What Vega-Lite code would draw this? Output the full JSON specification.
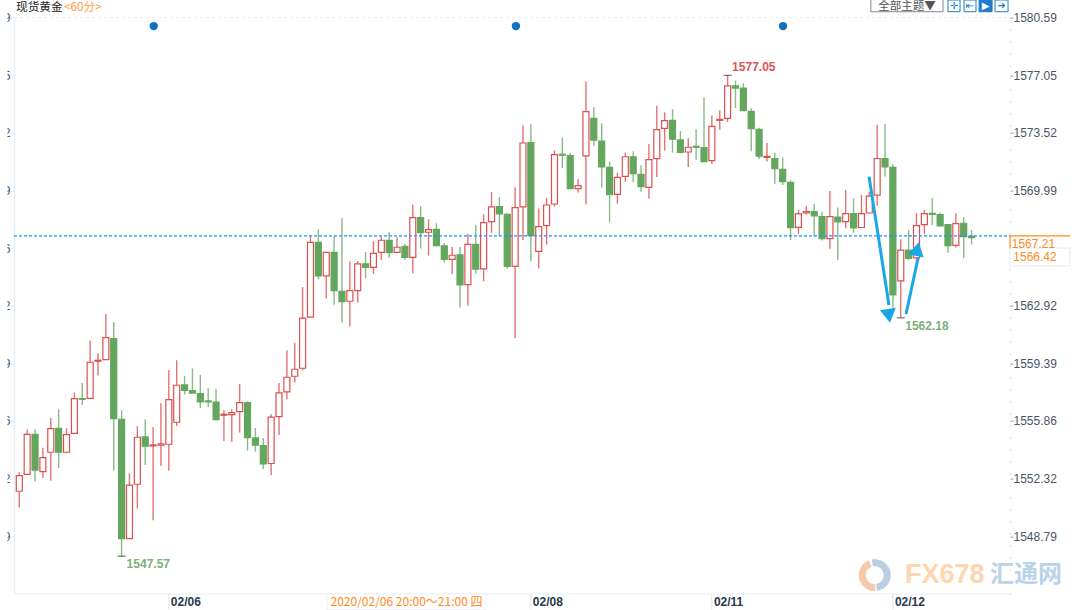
{"$schema":"https://vega.github.io/schema/vega-lite/v6.json","width":996,"height":576.4,"padding":{"left":14,"top":17.6,"right":70,"bottom":16},"autosize":"none","background":"#ffffff","config":{"view":{"stroke":null},"text":{"font":"Liberation Sans"}},
"datasets":{"candles":[
{"i":0,"o":1551.55,"h":1552.71,"l":1550.56,"c":1552.51},{"i":1,"o":1552.59,"h":1555.35,"l":1552.59,"c":1555.04},{"i":2,"o":1555.04,"h":1555.35,"l":1552.14,"c":1552.85},{"i":3,"o":1552.75,"h":1554.22,"l":1552.38,"c":1553.61},{"i":4,"o":1553.94,"h":1556.04,"l":1552.2,"c":1555.39},{"i":5,"o":1555.41,"h":1556.57,"l":1552.98,"c":1553.94},{"i":6,"o":1553.94,"h":1555.41,"l":1553.88,"c":1555.02},{"i":7,"o":1555.1,"h":1557.6,"l":1555.1,"c":1557.23},{"i":8,"o":1557.23,"h":1558.19,"l":1556.84,"c":1557.19},{"i":9,"o":1557.25,"h":1560.79,"l":1557.21,"c":1559.46},
{"i":10,"o":1559.52,"h":1560.01,"l":1558.64,"c":1559.58},{"i":11,"o":1559.62,"h":1562.42,"l":1559.62,"c":1560.97},{"i":12,"o":1560.91,"h":1561.93,"l":1552.8,"c":1556},{"i":13,"o":1555.96,"h":1556.52,"l":1547.57,"c":1548.65},{"i":14,"o":1548.65,"h":1552.65,"l":1548.65,"c":1551.92},{"i":15,"o":1551.98,"h":1555.53,"l":1550.49,"c":1554.86},{"i":16,"o":1554.88,"h":1555.96,"l":1553.16,"c":1554.31},{"i":17,"o":1554.33,"h":1555.49,"l":1549.77,"c":1554.39},{"i":18,"o":1554.37,"h":1556.94,"l":1553.1,"c":1554.45},{"i":19,"o":1554.43,"h":1558.99,"l":1552.8,"c":1557.17},
{"i":20,"o":1555.78,"h":1559.58,"l":1555.55,"c":1558.05},{"i":21,"o":1558.07,"h":1558.62,"l":1557.47,"c":1557.74},{"i":22,"o":1557.72,"h":1559.09,"l":1557.56,"c":1557.56},{"i":23,"o":1557.54,"h":1558.68,"l":1556.66,"c":1557.03},{"i":24,"o":1557.09,"h":1557.88,"l":1556.72,"c":1557.03},{"i":25,"o":1557.01,"h":1557.84,"l":1555.92,"c":1555.94},{"i":26,"o":1556.21,"h":1556.52,"l":1554.63,"c":1556.27},{"i":27,"o":1556.25,"h":1556.57,"l":1554.57,"c":1556.37},{"i":28,"o":1556.43,"h":1558.13,"l":1555.15,"c":1556.98},{"i":29,"o":1556.98,"h":1557.07,"l":1554.04,"c":1554.84},
{"i":30,"o":1554.82,"h":1555.43,"l":1553.98,"c":1554.37},{"i":31,"o":1554.35,"h":1554.82,"l":1552.92,"c":1553.23},{"i":32,"o":1553.25,"h":1556.27,"l":1552.55,"c":1556.09},{"i":33,"o":1556.13,"h":1558.19,"l":1555,"c":1557.58},{"i":34,"o":1557.64,"h":1560.19,"l":1557.19,"c":1558.54},{"i":35,"o":1558.6,"h":1560.66,"l":1558.21,"c":1559.03},{"i":36,"o":1559.09,"h":1564.07,"l":1558.95,"c":1562.16},{"i":37,"o":1562.22,"h":1567.2,"l":1562.22,"c":1566.81},{"i":38,"o":1566.81,"h":1567.61,"l":1564.55,"c":1564.75},{"i":39,"o":1564.75,"h":1566.24,"l":1563.36,"c":1566.2},
{"i":40,"o":1566.2,"h":1567.22,"l":1562.99,"c":1563.85},{"i":41,"o":1563.81,"h":1568.29,"l":1561.89,"c":1563.18},{"i":42,"o":1563.2,"h":1565.63,"l":1561.66,"c":1563.85},{"i":43,"o":1563.85,"h":1565.67,"l":1563.12,"c":1565.49},{"i":44,"o":1565.49,"h":1566.22,"l":1564.61,"c":1565.28},{"i":45,"o":1565.28,"h":1566.88,"l":1564.87,"c":1566.14},{"i":46,"o":1566.2,"h":1567.16,"l":1565.73,"c":1566.94},{"i":47,"o":1566.94,"h":1567.43,"l":1565.87,"c":1566.18},{"i":48,"o":1566.2,"h":1567.12,"l":1566.2,"c":1566.51},{"i":49,"o":1566.57,"h":1566.71,"l":1565.73,"c":1565.89},
{"i":50,"o":1565.89,"h":1569.12,"l":1564.91,"c":1568.33},{"i":51,"o":1568.33,"h":1569.02,"l":1566.43,"c":1567.41},{"i":52,"o":1567.43,"h":1568.22,"l":1566,"c":1567.59},{"i":53,"o":1567.61,"h":1567.98,"l":1566.55,"c":1566.61},{"i":54,"o":1566.59,"h":1566.75,"l":1565.57,"c":1565.77},{"i":55,"o":1565.77,"h":1566.53,"l":1564.87,"c":1566.02},{"i":56,"o":1566.04,"h":1566.53,"l":1562.81,"c":1564.2},{"i":57,"o":1564.22,"h":1567.33,"l":1562.93,"c":1566.69},{"i":58,"o":1566.69,"h":1567.88,"l":1564.89,"c":1565.16},{"i":59,"o":1565.18,"h":1568.53,"l":1564.42,"c":1568.02},
{"i":60,"o":1568.08,"h":1569.9,"l":1567.39,"c":1568.98},{"i":61,"o":1569,"h":1569.59,"l":1567.2,"c":1568.55},{"i":62,"o":1568.53,"h":1568.59,"l":1565.2,"c":1565.34},{"i":63,"o":1565.34,"h":1570.19,"l":1560.93,"c":1568.94},{"i":64,"o":1568.98,"h":1573.99,"l":1566.96,"c":1572.9},{"i":65,"o":1572.92,"h":1574.05,"l":1565.63,"c":1567.22},{"i":66,"o":1566.26,"h":1568.88,"l":1565.2,"c":1567.77},{"i":67,"o":1567.84,"h":1569.53,"l":1566.67,"c":1569.1},{"i":68,"o":1569.16,"h":1572.45,"l":1569,"c":1572.19},{"i":69,"o":1572.21,"h":1573.23,"l":1571.37,"c":1572.15},
{"i":70,"o":1572.13,"h":1572.27,"l":1570.1,"c":1570.1},{"i":71,"o":1570.1,"h":1570.7,"l":1569.86,"c":1570.29},{"i":72,"o":1572.11,"h":1576.67,"l":1569.14,"c":1574.83},{"i":73,"o":1574.41,"h":1575.09,"l":1572.74,"c":1573.07},{"i":74,"o":1573.02,"h":1574.11,"l":1570.16,"c":1571.43},{"i":75,"o":1571.41,"h":1571.76,"l":1568.04,"c":1569.73},{"i":76,"o":1569.75,"h":1571.08,"l":1569.18,"c":1570.8},{"i":77,"o":1570.86,"h":1572.31,"l":1570.53,"c":1572.06},{"i":78,"o":1572.06,"h":1572.39,"l":1570.51,"c":1571.02},{"i":79,"o":1570.98,"h":1571.53,"l":1569.92,"c":1570.22},
{"i":80,"o":1570.18,"h":1572.84,"l":1569.49,"c":1571.88},{"i":81,"o":1571.94,"h":1575.19,"l":1570.82,"c":1573.72},{"i":82,"o":1573.8,"h":1574.78,"l":1572.43,"c":1574.27},{"i":83,"o":1574.29,"h":1574.97,"l":1572.31,"c":1573.13},{"i":84,"o":1573.09,"h":1573.64,"l":1572.27,"c":1572.33},{"i":85,"o":1572.35,"h":1573.19,"l":1571.43,"c":1572.64},{"i":86,"o":1572.7,"h":1573.74,"l":1571.86,"c":1572.64},{"i":87,"o":1572.62,"h":1575.7,"l":1571.72,"c":1571.76},{"i":88,"o":1571.82,"h":1574.58,"l":1571.61,"c":1573.92},{"i":89,"o":1574.29,"h":1574.9,"l":1573.72,"c":1574.35},
{"i":90,"o":1574.41,"h":1577.05,"l":1574.19,"c":1576.4},{"i":91,"o":1576.4,"h":1576.72,"l":1575.05,"c":1576.27},{"i":92,"o":1576.27,"h":1576.56,"l":1574.86,"c":1574.88},{"i":93,"o":1574.84,"h":1575.03,"l":1572.39,"c":1573.78},{"i":94,"o":1573.74,"h":1573.84,"l":1571.92,"c":1572.1},{"i":95,"o":1572.02,"h":1572.9,"l":1571.76,"c":1572.08},{"i":96,"o":1571.94,"h":1572.31,"l":1570.41,"c":1571.33},{"i":97,"o":1571.29,"h":1572.02,"l":1570.33,"c":1570.53},{"i":98,"o":1570.49,"h":1570.61,"l":1566.95,"c":1567.71},{"i":99,"o":1567.73,"h":1568.79,"l":1567.32,"c":1568.55},
{"i":100,"o":1568.61,"h":1569.04,"l":1568.51,"c":1568.69},{"i":101,"o":1568.69,"h":1569.16,"l":1567.16,"c":1568.43},{"i":102,"o":1568.39,"h":1568.69,"l":1566.93,"c":1567.04},{"i":103,"o":1567.04,"h":1569.96,"l":1566.42,"c":1568.39},{"i":104,"o":1568.36,"h":1568.94,"l":1565.73,"c":1568.06},{"i":105,"o":1568.08,"h":1570.02,"l":1567.67,"c":1568.57},{"i":106,"o":1568.57,"h":1569.51,"l":1567.41,"c":1567.69},{"i":107,"o":1567.72,"h":1569.72,"l":1567.72,"c":1568.57},{"i":108,"o":1568.61,"h":1569.92,"l":1568.59,"c":1569.64},{"i":109,"o":1569.7,"h":1574.01,"l":1569.04,"c":1571.95},
{"i":110,"o":1571.95,"h":1574.07,"l":1570.84,"c":1571.44},{"i":111,"o":1571.41,"h":1571.6,"l":1562.71,"c":1563.59},{"i":112,"o":1564.45,"h":1567,"l":1562.18,"c":1566.33},{"i":113,"o":1566.33,"h":1567.55,"l":1565.73,"c":1565.83},{"i":114,"o":1565.86,"h":1568.59,"l":1565.39,"c":1567.84},{"i":115,"o":1567.9,"h":1568.8,"l":1567.33,"c":1568.57},{"i":116,"o":1568.59,"h":1569.53,"l":1567.88,"c":1568.53},{"i":117,"o":1568.51,"h":1568.64,"l":1567.78,"c":1567.82},{"i":118,"o":1567.9,"h":1567.94,"l":1566.18,"c":1566.61},{"i":119,"o":1566.63,"h":1568.59,"l":1566.49,"c":1567.96},
{"i":120,"o":1567.98,"h":1568.35,"l":1565.83,"c":1567.16},{"i":121,"o":1567.18,"h":1567.57,"l":1566.67,"c":1567.1}],
"arrowA":[{"i":107.97,"p":1570.84},{"i":110.5,"p":1562.97}],"arrowB":[{"i":112.67,"p":1562.42},{"i":114.2,"p":1565.85}],
"extremes":[{"i":13,"p":1547.57,"t":"1547.57"},{"i":90,"p":1577.05,"t":"1577.05"},{"i":112,"p":1562.18,"t":"1562.18"}],
"dates":[{"i":19,"p":1545.25,"q":1544.29,"m":1544.76,"t":"02/06"},{"i":65,"p":1545.25,"q":1544.29,"m":1544.76,"t":"02/08"},{"i":88,"p":1545.25,"q":1544.29,"m":1544.76,"t":"02/11"},{"i":111,"p":1545.25,"q":1544.29,"m":1544.76,"t":"02/12"}],
"icons":[{"a":118,"b":119.53,"m":118.77,"g":"✛"},{"a":120.04,"b":121.56,"m":120.8,"g":"⇤"},{"a":121.95,"b":123.6,"m":122.78,"g":"▶"},{"a":123.98,"b":125.63,"m":124.8,"g":"➜"}]},
"encoding":{"x":{"field":"i","type":"quantitative","title":null,"scale":{"domain":[-0.673,125.88],"nice":false,"zero":false,"padding":0},"axis":null}},
"resolve":{"axis":{"y":"independent"}},
"layer":[
{"data":{"values":[{"a":-0.673,"b":125.88,"p":1580.59}]},"mark":{"type":"rule","color":"#eeeeee","strokeDash":[3,3]},"encoding":{"x":{"field":"a","type":"quantitative","title":null,"axis":null},"x2":{"field":"b"},"y":{"field":"p","type":"quantitative","title":null,"scale":{"domain":[1545.25,1580.59],"nice":false,"zero":false},"axis":null}}},
{"data":{"values":[{"a":-0.673,"b":125.88,"p":1545.25}]},"mark":{"type":"rule","color":"#e8edf3"},"encoding":{"x":{"field":"a","type":"quantitative","title":null,"axis":null},"x2":{"field":"b"},"y":{"field":"p","type":"quantitative","title":null,"axis":null}}},
{"data":{"name":"dates"},"mark":{"type":"rule","color":"#dde3ea"},"encoding":{"y":{"field":"p","type":"quantitative","title":null,"axis":null},"y2":{"field":"q"}}},
{"data":{"name":"dates"},"mark":{"type":"text","align":"left","dx":2,"fontSize":12,"fontWeight":"bold","color":"#2b3850"},"encoding":{"y":{"field":"m","type":"quantitative","title":null,"axis":null},"text":{"field":"t"}}},
{"data":{"name":"candles"},"mark":{"type":"rule","strokeWidth":1.4,"opacity":0.8},"encoding":{
"y":{"field":"h","type":"quantitative","title":null,"scale":{"domain":[1545.25,1580.59],"nice":false,"zero":false},"axis":{"orient":"left","values":[1580.59,1577.05,1573.52,1569.99,1566.46,1562.92,1559.39,1555.86,1552.32,1548.79],"labelExpr":"slice(format(datum.value,'.2f'),-1)","grid":false,"tickSize":4,"tickColor":"#d5e6f5","labelPadding":0,"labelFont":"Liberation Sans","labelFontSize":12,"labelColor":"#3d5478","domainColor":"#e8eef5","domainWidth":1.5,"labelOverlap":false,"labelFlush":false}},
"y2":{"field":"l"},"color":{"condition":{"test":"datum.c>=datum.o","value":"#dd4f4f"},"value":"#6aaa66"}}},
{"data":{"name":"candles"},"mark":{"type":"bar","size":6,"strokeWidth":1.2},"encoding":{
"y":{"field":"o","type":"quantitative","title":null,"scale":{"domain":[1545.25,1580.59],"nice":false,"zero":false},"axis":{"orient":"right","values":[1580.59,1577.05,1573.52,1569.99,1562.92,1559.39,1555.86,1552.32,1548.79],"format":".2f","grid":false,"tickSize":3,"tickColor":"#999999","labelPadding":0,"labelFont":"Liberation Sans","labelFontSize":12,"labelColor":"#4a5568","domainColor":"#bbbbbb","domainDash":[1,11],"labelOverlap":false,"labelFlush":false}},
"y2":{"field":"c"},"fill":{"condition":{"test":"datum.c>=datum.o","value":"#ffffff"},"value":"#63a75e"},"stroke":{"condition":{"test":"datum.c>=datum.o","value":"#dd4f4f"},"value":"#63a75e"}}},
{"data":{"values":[{"a":-2.46,"b":-1.5,"p":1581.67,"q":1544.29}]},"mark":{"type":"rect","fill":"#ffffff"},"encoding":{"x":{"field":"a","type":"quantitative","title":null,"axis":null},"x2":{"field":"b"},"y":{"field":"p","type":"quantitative","title":null,"axis":null},"y2":{"field":"q"}}},
{"data":{"values":[{"a":-0.673,"b":125.88,"p":1567.21}]},"mark":{"type":"rule","color":"#1e90ff","strokeDash":[3,2],"strokeWidth":1.1},"encoding":{"x":{"field":"a","type":"quantitative","title":null,"axis":null},"x2":{"field":"b"},"y":{"field":"p","type":"quantitative","title":null,"axis":null}}},
{"data":{"values":[{"a":125.88,"b":133.5,"p":1567.21}]},"mark":{"type":"rule","color":"#ff8a1c","strokeWidth":1.2},"encoding":{"x":{"field":"a","type":"quantitative","title":null,"axis":null},"x2":{"field":"b"},"y":{"field":"p","type":"quantitative","title":null,"axis":null}}},
{"data":{"values":[{"i":125.88,"p":1567.21,"q":1566.35}]},"mark":{"type":"rule","color":"#ff8a1c","strokeWidth":1.2},"encoding":{"y":{"field":"p","type":"quantitative","title":null,"axis":null},"y2":{"field":"q"}}},
{"data":{"values":[{"a":125.88,"b":133.5,"p":1566.46,"q":1565.36}]},"mark":{"type":"rect","fill":"#ffffff","stroke":"#e6e9ee"},"encoding":{"x":{"field":"a","type":"quantitative","title":null,"axis":null},"x2":{"field":"b"},"y":{"field":"p","type":"quantitative","title":null,"axis":null},"y2":{"field":"q"}}},
{"data":{"values":[{"i":126.1,"p":1567.21,"t":"1567.21"},{"i":126.3,"p":1566.42,"t":"1566.42"}]},"mark":{"type":"text","align":"left","dy":8,"fontSize":12,"color":"#ff8a1c"},"encoding":{"y":{"field":"p","type":"quantitative","title":null,"axis":null},"text":{"field":"t"}}},
{"data":{"values":[{"i":17.08,"p":1580.07},{"i":63.1,"p":1580.07},{"i":97.04,"p":1580.07}]},"mark":{"type":"point","filled":true,"opacity":1,"size":70,"color":"#0f73c4"},"encoding":{"y":{"field":"p","type":"quantitative","title":null,"axis":null}}},
{"data":{"name":"arrowA"},"mark":{"type":"line","color":"#1aa7e8","strokeWidth":3},"encoding":{"y":{"field":"p","type":"quantitative","title":null,"axis":null}}},
{"data":{"name":"arrowB"},"mark":{"type":"line","color":"#1aa7e8","strokeWidth":3},"encoding":{"y":{"field":"p","type":"quantitative","title":null,"axis":null}}},
{"data":{"values":[{"i":110.5,"p":1562.3}]},"mark":{"type":"point","filled":true,"opacity":1,"shape":"triangle-down","angle":351,"size":260,"color":"#1aa7e8"},"encoding":{"y":{"field":"p","type":"quantitative","title":null,"axis":null}}},
{"data":{"values":[{"i":114.1,"p":1566.4}]},"mark":{"type":"point","filled":true,"opacity":1,"shape":"triangle-up","angle":12,"size":260,"color":"#1aa7e8"},"encoding":{"y":{"field":"p","type":"quantitative","title":null,"axis":null}}},
{"data":{"name":"extremes"},"mark":{"type":"tick","orient":"horizontal","size":8,"thickness":1,"color":"#111111"},"encoding":{"y":{"field":"p","type":"quantitative","title":null,"axis":null}}},
{"data":{"name":"extremes"},"transform":[{"filter":"datum.i==13"}],"mark":{"type":"text","align":"left","dx":5,"dy":8,"fontSize":12,"fontWeight":"bold","color":"#7db07a"},"encoding":{"y":{"field":"p","type":"quantitative","title":null,"axis":null},"text":{"field":"t"}}},
{"data":{"name":"extremes"},"transform":[{"filter":"datum.i==90"}],"mark":{"type":"text","align":"left","dx":4.5,"dy":-8,"fontSize":12,"fontWeight":"bold","color":"#dd5555"},"encoding":{"y":{"field":"p","type":"quantitative","title":null,"axis":null},"text":{"field":"t"}}},
{"data":{"name":"extremes"},"transform":[{"filter":"datum.i==112"}],"mark":{"type":"text","align":"left","dx":4.5,"dy":8,"fontSize":12,"fontWeight":"bold","color":"#7db07a"},"encoding":{"y":{"field":"p","type":"quantitative","title":null,"axis":null},"text":{"field":"t"}}},
{"data":{"values":[{"a":39.1,"b":59.3,"p":1544.29,"q":1545.25}]},"mark":{"type":"rect","fill":"#ffffff","stroke":"#eef0f4"},"encoding":{"x":{"field":"a","type":"quantitative","title":null,"axis":null},"x2":{"field":"b"},"y":{"field":"p","type":"quantitative","title":null,"axis":null},"y2":{"field":"q"}}},
{"data":{"values":[{"i":49.2,"p":1544.76,"t":"2020/02/06 20:00～21:00 四"}]},"mark":{"type":"text","font":"Noto Sans CJK SC","fontSize":12,"color":"#ff8a1c"},"encoding":{"y":{"field":"p","type":"quantitative","title":null,"axis":null},"text":{"field":"t"}}},
{"data":{"values":[{"i":-0.42,"p":1581.25,"t":"现货黄金"}]},"mark":{"type":"text","align":"left","font":"Noto Sans CJK SC","fontSize":11.7,"color":"#222222"},"encoding":{"y":{"field":"p","type":"quantitative","title":null,"axis":null},"text":{"field":"t"}}},
{"data":{"values":[{"i":5.68,"p":1581.25,"t":"<60分>"}]},"mark":{"type":"text","align":"left","font":"Noto Sans CJK SC","fontSize":11.7,"color":"#ff9a33"},"encoding":{"y":{"field":"p","type":"quantitative","title":null,"axis":null},"text":{"field":"t"}}},
{"data":{"values":[{"a":108.2,"b":117.37,"p":1581.8,"q":1580.95}]},"mark":{"type":"rect","fill":"#ffffff","stroke":"#888888"},"encoding":{"x":{"field":"a","type":"quantitative","title":null,"axis":null},"x2":{"field":"b"},"y":{"field":"p","type":"quantitative","title":null,"axis":null},"y2":{"field":"q"}}},
{"data":{"values":[{"i":112.8,"p":1581.27,"t":"全部主题▼"}]},"mark":{"type":"text","font":"Noto Sans CJK SC","fontSize":11.5,"color":"#555555"},"encoding":{"y":{"field":"p","type":"quantitative","title":null,"axis":null},"text":{"field":"t"}}},
{"data":{"name":"icons"},"mark":{"type":"rect","stroke":"#1e7cc8"},"encoding":{"x":{"field":"a","type":"quantitative","title":null,"axis":null},"x2":{"field":"b"},"y":{"datum":1581.67,"type":"quantitative","title":null,"axis":null},"y2":{"datum":1580.95},"fill":{"condition":{"test":"datum.g=='▶'","value":"#1e7cc8"},"value":"#ffffff"}}},
{"data":{"name":"icons"},"mark":{"type":"text","font":"DejaVu Sans","fontSize":10},"encoding":{"x":{"field":"m","type":"quantitative","title":null,"axis":null},"y":{"datum":1581.31,"type":"quantitative","title":null,"axis":null},"text":{"field":"g"},"color":{"condition":{"test":"datum.g=='▶'","value":"#ffffff"},"value":"#1e7cc8"}}},
{"data":{"values":[{"i":117.6,"p":1546.41,"t":"FX678"}]},"mark":{"type":"text","font":"Liberation Sans","fontWeight":"bold","fontSize":27,"color":"#fdd6b0"},"encoding":{"y":{"field":"p","type":"quantitative","title":null,"axis":null},"text":{"field":"t"}}},
{"data":{"values":[{"i":127.9,"p":1546.41,"t":"汇通网"}]},"mark":{"type":"text","font":"Noto Sans CJK SC","fontWeight":"bold","fontSize":24,"color":"#b9d3ea"},"encoding":{"y":{"field":"p","type":"quantitative","title":null,"axis":null},"text":{"field":"t"}}},
{"data":{"values":[{"i":108.7,"p":1546.41}]},"mark":{"type":"arc","innerRadius":9,"outerRadius":16,"theta":-0.2,"theta2":3.0,"color":"#bccfe2"},"encoding":{"y":{"field":"p","type":"quantitative","title":null,"axis":null}}},
{"data":{"values":[{"i":108.7,"p":1546.41}]},"mark":{"type":"arc","innerRadius":9,"outerRadius":16,"theta":3.1,"theta2":5.9,"color":"#f7c9a8"},"encoding":{"y":{"field":"p","type":"quantitative","title":null,"axis":null}}}
]}
